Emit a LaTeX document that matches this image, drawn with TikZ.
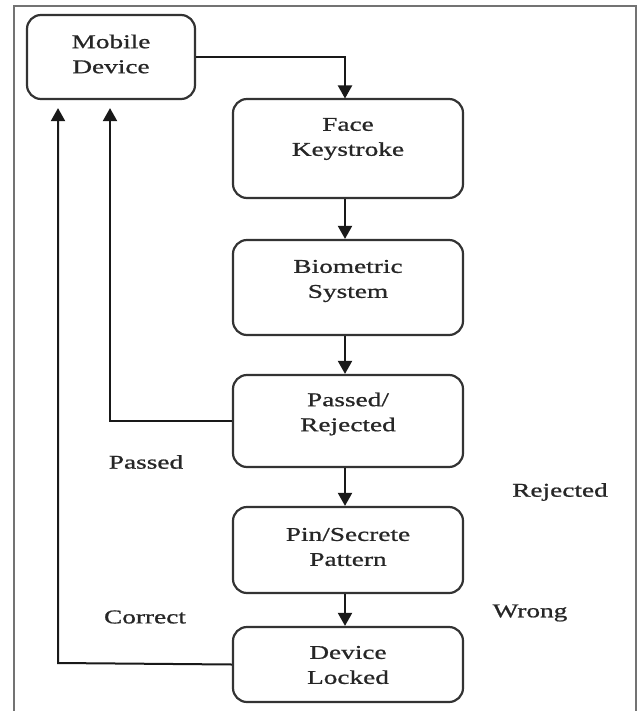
\documentclass[tikz,border=0pt]{standalone}
\usepackage{fontspec}
\setmainfont[FakeStretch=1.4,FakeBold=0.9]{Liberation Serif}
\usetikzlibrary{arrows.meta}
\begin{document}
\begin{tikzpicture}[x=1pt,y=-1pt,
  frame/.style={draw=black!55,line width=1.4pt},
  box/.style={draw=black!80,line width=2.2pt,rounded corners=14pt,inner sep=0pt},
  txt/.style={align=center,text=black!85,font=\fontsize{19.5}{25}\selectfont,inner sep=0pt},
  lbl/.style={text=black!85,font=\fontsize{19.5}{25}\selectfont,inner sep=0pt},
  arr/.style={draw=black!90,line width=2pt,-{Triangle[width=14pt,length=13pt]}}]
\useasboundingbox (0,0) rectangle (638,711);
\draw[frame] (14,712) -- (14,6) -- (636,6) -- (636,712);
% boxes
\node[box,minimum width=168pt,minimum height=84pt] (mob) at (111,57) {};
\node[box,minimum width=230pt,minimum height=99pt] (face) at (348,148.5) {};
\node[box,minimum width=230pt,minimum height=95pt] (bio) at (348,287.5) {};
\node[box,minimum width=230pt,minimum height=92pt] (pr) at (348,421) {};
\node[box,minimum width=230pt,minimum height=86pt] (pin) at (348,550) {};
\node[box,minimum width=230pt,minimum height=75pt] (lock) at (348,664.5) {};
% texts
\node[txt] (tmob) at (111,54) {Mobile\\Device};
\node[txt] (tface) at (348,139) {Face\\Keystroke};
\node[txt] (tbio) at (348,281) {Biometric\\System};
\node[txt] (tpr) at (348,414) {Passed/\\Rejected};
\node[txt] (tpin) at (348,547) {Pin/Secrete\\Pattern};
\node[txt] (tlock) at (348,665) {Device\\Locked};
% labels
\node[lbl] (lpass) at (146,462) {Passed};
\node[lbl] (lrej) at (560,492) {Rejected};
\node[lbl] (lcor) at (145,617) {Correct};
\node[lbl] (lwr) at (530,613) {Wrong};
% connectors
\draw[arr] (mob.east) -- (345,57) -- (345,98.5);
\draw[arr] (face.south -| 345,0) -- (bio.north -| 345,0);
\draw[arr] (bio.south -| 345,0) -- (pr.north -| 345,0);
\draw[arr] (pr.south -| 345,0) -- (pin.north -| 345,0);
\draw[arr] (pin.south -| 345,0) -- (lock.north -| 345,0);
\draw[arr,shorten >=8pt] (pr.west) -- (110,421) -- (mob.south -| 110,0);
\draw[arr,shorten >=8pt] (lock.west) -- (58,663) -- (mob.south -| 58,0);
\end{tikzpicture}
\end{document}
